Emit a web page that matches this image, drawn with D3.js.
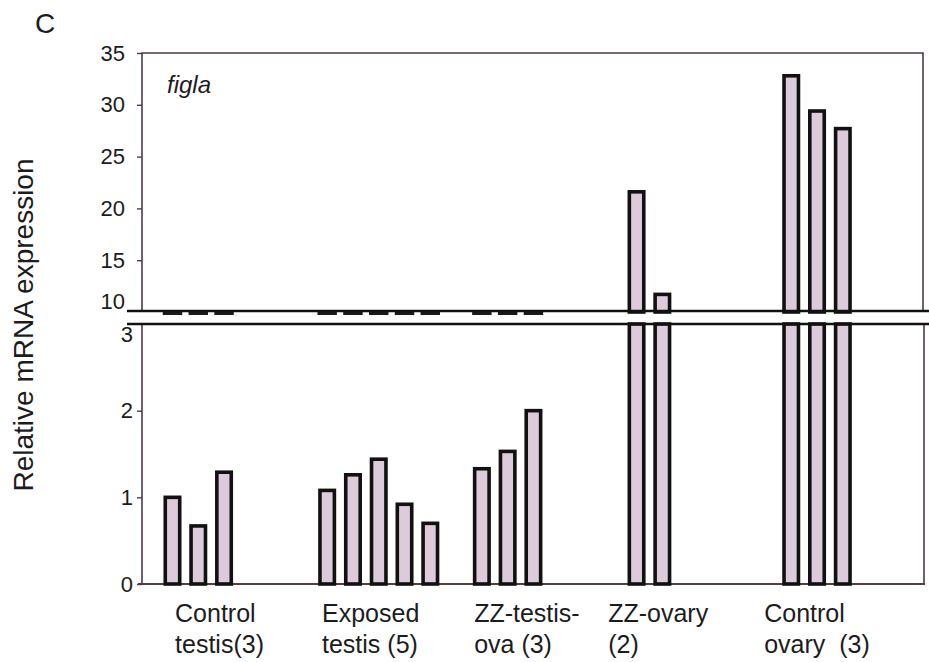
<!DOCTYPE html>
<html>
<head>
<meta charset="utf-8">
<script src="https://cdn.jsdelivr.net/npm/d3@7/dist/d3.min.js"></script>
<style>
  body { margin: 0; background: #fff; }
  text { font-family: "Liberation Sans", Arial, sans-serif; fill: #1c1c1c; }
</style>
</head>
<body>
<div id="chart"></div>
<script>
// data
const groupNames = ["Control testis(3)", "Exposed testis (5)", "ZZ-testis-ova (3)", "ZZ-ovary (2)", "Control ovary (3)"];
const groupLabelLines = [["Control", "testis(3)"], ["Exposed", "testis (5)"], ["ZZ-testis-", "ova (3)"], ["ZZ-ovary", "(2)"], ["Control", "ovary  (3)"]];
const controlTestis = [1.0, 0.67, 1.29];
const exposedTestis = [1.08, 1.26, 1.44, 0.92, 0.70];
const zzTestisOva = [1.33, 1.53, 2.0];
const zzOvary = [21.6, 11.7];
const controlOvary = [32.8, 29.4, 27.7];
const topTicks = [10, 15, 20, 25, 30, 35];
const bottomTicks = [0, 1, 2, 3];

// layout
const width = 929, height = 662;
const groupStartSlot = [0, 6, 12, 18, 24];
const labelSlot = [0.1, 5.8, 11.7, 16.9, 22.95];
const nSlots = 27;
const left = 142, right = 923;
const fillColor = "#ddcbdb";
const frameColor = "#4d3a4a";

const seriesValues = [controlTestis, exposedTestis, zzTestisOva, zzOvary, controlOvary];
const bars = [];
seriesValues.forEach((vals, g) => {
    vals.forEach((v, i) => bars.push({ group: groupNames[g], slot: groupStartSlot[g] + i, value: v }));
});

const svg = d3.select("#chart").append("svg")
    .attr("width", width)
    .attr("height", height);

// scales
const x = d3.scaleBand()
    .domain(d3.range(nSlots))
    .range([159.6, 855.7])
    .paddingInner(0.44)
    .paddingOuter(0.22);
const slotX = d3.scaleLinear()
    .domain([0, nSlots - 1])
    .range([x(0) + x.bandwidth() / 2, x(nSlots - 1) + x.bandwidth() / 2]);

const yTop = d3.scaleLinear().domain([10, 35]).range([312, 53]);
const yBot = d3.scaleLinear().domain([0, 3]).range([584, 324]);

// frame of top panel
svg.append("path")
    .attr("d", `M${left},${yTop(10)}V${yTop(35)}H${right}V${yTop(10)}`)
    .attr("fill", "none")
    .attr("stroke", frameColor)
    .attr("stroke-width", 1.6);

// frame of bottom panel
svg.append("path")
    .attr("d", `M${left},${yBot(3)}V${yBot(0)}M${right + 1},${yBot(3)}V${yBot(0)}`)
    .attr("fill", "none")
    .attr("stroke", frameColor)
    .attr("stroke-width", 1.6);
svg.append("line")
    .attr("x1", 138).attr("x2", right + 2)
    .attr("y1", yBot(0)).attr("y2", yBot(0))
    .attr("stroke", "#5a3a45")
    .attr("stroke-width", 1.8);

// bars, top panel (values above the break)
svg.selectAll(".bar-top")
    .data(bars.filter(d => d.value > 10))
    .enter()
    .append("rect")
    .attr("class", "bar-top")
    .attr("x", d => x(d.slot))
    .attr("y", d => yTop(d.value))
    .attr("width", x.bandwidth())
    .attr("height", d => yTop(10) - yTop(d.value))
    .attr("fill", fillColor)
    .attr("stroke", "#111")
    .attr("stroke-width", 3.6);

// clipped stubs of small bars sitting on the break
svg.selectAll(".bar-stub")
    .data(bars.filter(d => d.value <= 10))
    .enter()
    .append("line")
    .attr("class", "bar-stub")
    .attr("x1", d => x(d.slot) - 2.5)
    .attr("x2", d => x(d.slot) + x.bandwidth() + 2.5)
    .attr("y1", yTop(10) + 1.5)
    .attr("y2", yTop(10) + 1.5)
    .attr("stroke", "#1a1a1a")
    .attr("stroke-width", 3);

// bars, bottom panel
svg.selectAll(".bar-bot")
    .data(bars)
    .enter()
    .append("rect")
    .attr("class", "bar-bot")
    .attr("x", d => x(d.slot))
    .attr("y", d => yBot(Math.min(d.value, 3)))
    .attr("width", x.bandwidth())
    .attr("height", d => yBot(0) - yBot(Math.min(d.value, 3)))
    .attr("fill", fillColor)
    .attr("stroke", "#111")
    .attr("stroke-width", 3.6);

// break lines
[yTop(10) - 1, yBot(3)].forEach(yy => {
    svg.append("line")
        .attr("x1", 127).attr("x2", width)
        .attr("y1", yy).attr("y2", yy)
        .attr("stroke", "#111")
        .attr("stroke-width", 2.6);
});

// y axes
const axTop = svg.append("g")
    .attr("transform", `translate(${left},0)`)
    .call(d3.axisLeft(yTop).tickValues(topTicks).tickFormat(d3.format("d")).tickSize(5).tickPadding(12));
axTop.select(".domain").remove();
axTop.selectAll(".tick line").attr("stroke", frameColor).attr("stroke-width", 1.4)
    .filter(d => d === 10).remove();
axTop.selectAll(".tick text")
    .attr("font-size", 22)
    .attr("font-family", null)
    .attr("dy", d => d === 10 ? "-0.18em" : "0.32em");

const axBot = svg.append("g")
    .attr("transform", `translate(${left},0)`)
    .call(d3.axisLeft(yBot).tickValues(bottomTicks).tickFormat(d3.format("d")).tickSize(5).tickPadding(4));
axBot.select(".domain").remove();
axBot.selectAll(".tick line").attr("stroke", frameColor).attr("stroke-width", 1.4)
    .filter(d => d === 3).remove();
axBot.selectAll(".tick text")
    .attr("font-size", 22)
    .attr("font-family", null)
    .attr("dy", d => d === 3 ? "0.78em" : "0.32em");

// category labels
const lbl = svg.selectAll(".cat")
    .data(groupLabelLines)
    .enter()
    .append("text")
    .attr("class", "cat")
    .attr("x", (d, i) => slotX(labelSlot[i]))
    .attr("y", 622)
    .attr("font-size", 25)
    .style("white-space", "pre");
lbl.selectAll("tspan")
    .data(d => d)
    .enter()
    .append("tspan")
    .attr("x", function () { return this.parentNode.getAttribute("x"); })
    .attr("dy", (d, i) => i === 0 ? 0 : 31)
    .text(d => d);

// y axis title
svg.append("text")
    .attr("transform", "translate(33,325) rotate(-90)")
    .attr("text-anchor", "middle")
    .attr("font-size", 28)
    .text("Relative mRNA expression");

// gene name and panel letter
svg.append("text")
    .attr("x", 167)
    .attr("y", 93)
    .attr("font-size", 24)
    .attr("font-style", "italic")
    .text("figla");

svg.append("text")
    .attr("x", 35)
    .attr("y", 33)
    .attr("font-size", 28)
    .text("C");
</script>
</body>
</html>
